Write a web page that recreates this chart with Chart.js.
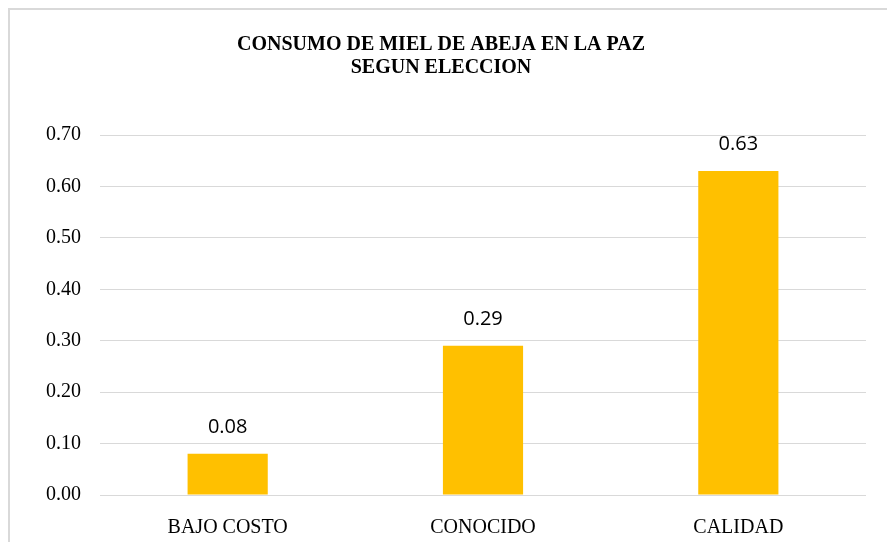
<!DOCTYPE html>
<html>
<head>
<meta charset="utf-8">
<script src="https://cdn.jsdelivr.net/npm/chart.js@4"></script>
<style>
  html, body { margin: 0; padding: 0; background: #fff; overflow: hidden; }
  #canvas { display: block; }
</style>
</head>
<body>
<canvas id="canvas" width="889" height="542"></canvas>
<script>
// data
var categories = ["BAJO COSTO", "CONOCIDO", "CALIDAD"];
var valores = [0.08, 0.29, 0.63];
var titleLines = ["CONSUMO DE MIEL DE ABEJA EN LA PAZ", "SEGUN ELECCION"];

// gray frame of the chart area (top and left edges visible)
var frame = {
  id: "frame",
  beforeDraw: function (chart) {
    var ctx = chart.ctx;
    ctx.save();
    ctx.strokeStyle = "#d9d9d9";
    ctx.lineWidth = 2;
    ctx.beginPath();
    ctx.moveTo(9, chart.height);
    ctx.lineTo(9, 9);
    ctx.lineTo(887, 9);
    ctx.stroke();
    ctx.restore();
  }
};

// labels above the bars
var valueLabels = {
  id: "valueLabels",
  afterDatasetsDraw: function (chart) {
    var ctx = chart.ctx;
    var meta = chart.getDatasetMeta(0);
    ctx.save();
    ctx.font = "20px 'Open Sans'";
    ctx.fillStyle = "#000";
    ctx.textAlign = "center";
    ctx.textBaseline = "middle";
    meta.data.forEach(function (bar, i) {
      ctx.fillText(valores[i].toFixed(2), bar.x, bar.y - 27);
    });
    ctx.restore();
  }
};

var ctx = document.getElementById("canvas").getContext("2d");
var myChart = new Chart(ctx, {
  type: "bar",
  data: {
    labels: categories,
    datasets: [
      {
        data: valores,
        backgroundColor: "#FFC000",
        borderWidth: 0,
        categoryPercentage: 1,
        barPercentage: 0.314,
      },
    ],
  },
  plugins: [frame, valueLabels],
  options: {
    responsive: false,
    animation: false,
    layout: {
      padding: { left: 16, right: 23, top: 0, bottom: 0 },
    },
    plugins: {
      legend: { display: false },
      tooltip: { enabled: false },
      title: {
        display: true,
        text: titleLines,
        color: "#000",
        font: { family: "'Liberation Serif'", size: 20, weight: "bold", lineHeight: 1.15 },
        padding: { top: 33, bottom: 56 },
      },
    },
    scales: {
      x: {
        grid: { display: false },
        border: { display: false },
        ticks: {
          color: "#000",
          padding: 13,
          font: { family: "'Liberation Serif'", size: 20 },
        },
        afterFit: function (scale) {
          scale.height = 47;
        },
      },
      y: {
        min: 0,
        max: 0.7,
        border: { display: false },
        grid: { color: "#d9d9d9", lineWidth: 1, drawTicks: false },
        ticks: {
          stepSize: 0.1,
          color: "#000",
          padding: 19,
          font: { family: "'Liberation Serif'", size: 20 },
          callback: function (v) { return Number(v).toFixed(2); },
        },
        afterFit: function (scale) {
          scale.width = 84;
        },
      },
    },
  },
});
</script>
</body>
</html>
